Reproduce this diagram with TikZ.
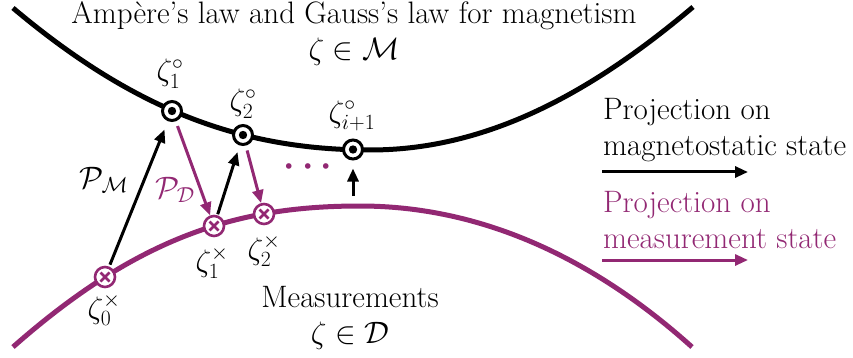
\RequirePackage{fix-cm}
\documentclass[tikz,border=0pt]{standalone}
\usepackage{fontspec}
\usetikzlibrary{arrows.meta}
\definecolor{mpurple}{RGB}{146,40,115}
\begin{document}
\begin{tikzpicture}[x=1pt,y=-1pt,
  txt/.style={font=\fontsize{31}{36}\selectfont, inner sep=0pt},
  mstate/.style={circle, draw=black, fill=white, line width=3pt, minimum size=19pt, inner sep=0pt,
    path picture={\fill[black] (path picture bounding box.center) circle (4.2pt);}},
  dstate/.style={circle, draw=mpurple, fill=white, line width=2.6pt, minimum size=20pt, inner sep=0pt,
    path picture={\draw[mpurple,line width=2.6pt]
      ([xshift=-4.5pt,yshift=-4.5pt]path picture bounding box.center) -- ([xshift=4.5pt,yshift=4.5pt]path picture bounding box.center)
      ([xshift=-4.5pt,yshift=4.5pt]path picture bounding box.center) -- ([xshift=4.5pt,yshift=-4.5pt]path picture bounding box.center);}},
  marr/.style={line width=3pt, black, -{Triangle[length=13pt,width=11pt]}},
  darr/.style={line width=3pt, mpurple, -{Triangle[length=13pt,width=11pt]}},
  mcurve/.style={line width=5pt, black},
  dcurve/.style={line width=5pt, mpurple},
]
\useasboundingbox (0,0) rectangle (853,358);

% curves
\draw[mcurve] (13,8) .. controls (133,109) and (240,150) .. (370,150)
                     .. controls (480,150) and (583,100) .. (693,7);
\draw[dcurve] (13,347) .. controls (140,235) and (240,206) .. (360,206)
                       .. controls (480,206) and (592,257) .. (692,347);

% state nodes
\node[mstate] (m1) at (172,111) {};
\node[mstate] (m2) at (243,135) {};
\node[mstate] (mi) at (353,149.5) {};
\node[dstate] (d0) at (105,277) {};
\node[dstate] (d1) at (214,226) {};
\node[dstate] (d2) at (264,214) {};

% labels of states
\node[txt] (lm1) at (170,74) {$\zeta_1^\circ$};
\node[txt] (lm2) at (243,104) {$\zeta_2^\circ$};
\node[txt] (lmi) at (352,116) {$\zeta_{i+1}^\circ$};
\node[txt] (ld0) at (104,310) {$\zeta_0^\times$};
\node[txt] (ld1) at (212,263) {$\zeta_1^\times$};
\node[txt] (ld2) at (264,251) {$\zeta_2^\times$};

% projections
\draw[marr, shorten <=2pt, shorten >=9pt] (d0) -- (m1);
\draw[darr, shorten <=5pt, shorten >=0pt] (m1) -- (d1);
\draw[marr, shorten <=1pt, shorten >=7pt] (d1) -- (m2);
\draw[darr, shorten <=5pt, shorten >=0pt] (m2) -- (d2);
\coordinate (afrom) at (353,196);
\draw[marr, shorten >=8pt] (afrom) -- (mi);

\node[txt] (pm) at (104,180) {$\mathcal{P}_{\mathcal{M}}$};
\node[txt, text=mpurple] (pd) at (175,190) {$\mathcal{P}_{\mathcal{D}}$};
\node[txt, text=mpurple, font=\fontsize{36}{40}\selectfont\boldmath] (dots) at (308,167) {$\cdots$};

% titles
\node[txt, align=center] (ttop) at (354,34) {Ampère’s law and Gauss’s law for magnetism\\$\zeta\in\mathcal{M}$};
\node[txt, align=center] (tbot) at (350,318) {Measurements\\$\zeta\in\mathcal{D}$};

% legend
\node[txt, align=left, anchor=west] (lgm) at (603,130) {Projection on\\magnetostatic state};
\coordinate (lgm1) at (602,172);
\coordinate (lgm2) at (748,172);
\draw[marr] (lgm1) -- (lgm2);
\node[txt, align=left, anchor=west, text=mpurple] (lgd) at (603,220) {Projection on\\measurement state};
\coordinate (lgd1) at (602,260);
\coordinate (lgd2) at (748,260);
\draw[darr] (lgd1) -- (lgd2);
\end{tikzpicture}
\end{document}
